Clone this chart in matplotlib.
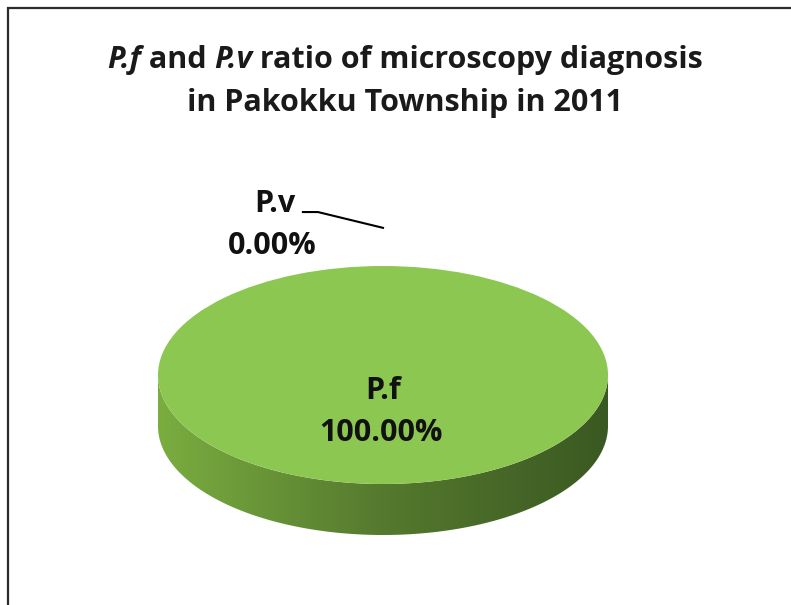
import numpy as np
import matplotlib.pyplot as plt
from matplotlib.colors import LinearSegmentedColormap
from matplotlib.patches import Polygon

labels = ['P.f', 'P.v']
values = [100.0, 0.0]
pct_text = ['100.00%', '0.00%']

title_line1 = [('P.f', 'italic'), (' and ', 'normal'), ('P.v', 'italic'),
               (' ratio of microscopy diagnosis', 'normal')]
title_line2 = 'in Pakokku Township in 2011'

top_color = '#8cc751'
side_colors = ['#7aad40', '#55792e', '#3a5922']

W, H = 791, 605
fig = plt.figure(figsize=(W / 100, H / 100), dpi=100)
plt.rcParams['font.family'] = ['Open Sans', 'DejaVu Sans']

# background axes in pixel units for border, title, labels
bg = fig.add_axes([0, 0, 1, 1])
bg.set_xlim(0, W)
bg.set_ylim(H, 0)
bg.axis('off')
bg.plot([8, 8, W], [H, 8, 8], color='#2b2b2b', lw=1.6, solid_joinstyle='miter')

# pie geometry (pixels)
cx, cy, rx, ry, depth = 383, 375, 225, 109, 51
dd = depth / ry
ax = fig.add_axes([(cx - rx) / W, 1 - (cy + ry + depth) / H,
                   2 * rx / W, (2 * ry + depth) / H])
wedges, _ = ax.pie(values, colors=[top_color, '#4f81bd'], startangle=90,
                   counterclock=False, radius=1,
                   wedgeprops=dict(linewidth=0), normalize=True)
for w in wedges:
    w.set_zorder(3)
ax.set_aspect('auto')
ax.set_xlim(-1, 1)
ax.set_ylim(-1 - dd, 1)
ax.axis('off')

# side of the 3d pie (front half)
t = np.linspace(np.pi, 2 * np.pi, 200)
upper = np.column_stack([np.cos(t), np.sin(t)])
lower = np.column_stack([np.cos(t[::-1]), np.sin(t[::-1]) - dd])
side = Polygon(np.vstack([upper, lower]), closed=True, facecolor='none',
               edgecolor='none', transform=ax.transData)
ax.add_patch(side)
cmap = LinearSegmentedColormap.from_list('side', side_colors)
grad = np.linspace(0, 1, 256).reshape(1, -1)
im = ax.imshow(grad, cmap=cmap, extent=(-1, 1, -1 - dd, 0), aspect='auto',
               zorder=2, interpolation='bilinear')
im.set_clip_path(side)

# labels
ax.text(0, -0.15, labels[0], ha='center', va='center', fontsize=22,
        fontweight='bold', color='#111111', zorder=5)
ax.text(-0.01, -0.53, pct_text[0], ha='center', va='center', fontsize=22,
        fontweight='bold', color='#111111', zorder=5)

# P.v label with leader line towards its (empty) wedge
ang = np.deg2rad((wedges[1].theta1 + wedges[1].theta2) / 2)
end = (1.35 * np.cos(ang), 1.35 * np.sin(ang))
ax.plot([-0.356, -0.289, end[0]], [1.495, 1.495, end[1]], color='black',
        lw=1.5, clip_on=False, zorder=5)
bg.text(275, 204, labels[1], ha='center', va='center', fontsize=22,
        fontweight='bold', color='#111111')
bg.text(272, 246, pct_text[1], ha='center', va='center', fontsize=22,
        fontweight='bold', color='#111111')

# title with italic parts, centred
fig.canvas.draw()
r = fig.canvas.get_renderer()
pieces = []
for s, style in title_line1:
    tx = bg.text(0, 60, s, ha='left', va='center', fontsize=22,
                 fontweight='bold', fontstyle=style, color='#1a1a1a')
    pieces.append(tx)
widths = [p.get_window_extent(r).width for p in pieces]
x0 = 405 - sum(widths) / 2
for p, wdt in zip(pieces, widths):
    p.set_x(x0)
    x0 += wdt
bg.text(405, 103, title_line2, ha='center', va='center', fontsize=22,
        fontweight='bold', color='#1a1a1a')

fig.savefig('out.png', dpi=100)
